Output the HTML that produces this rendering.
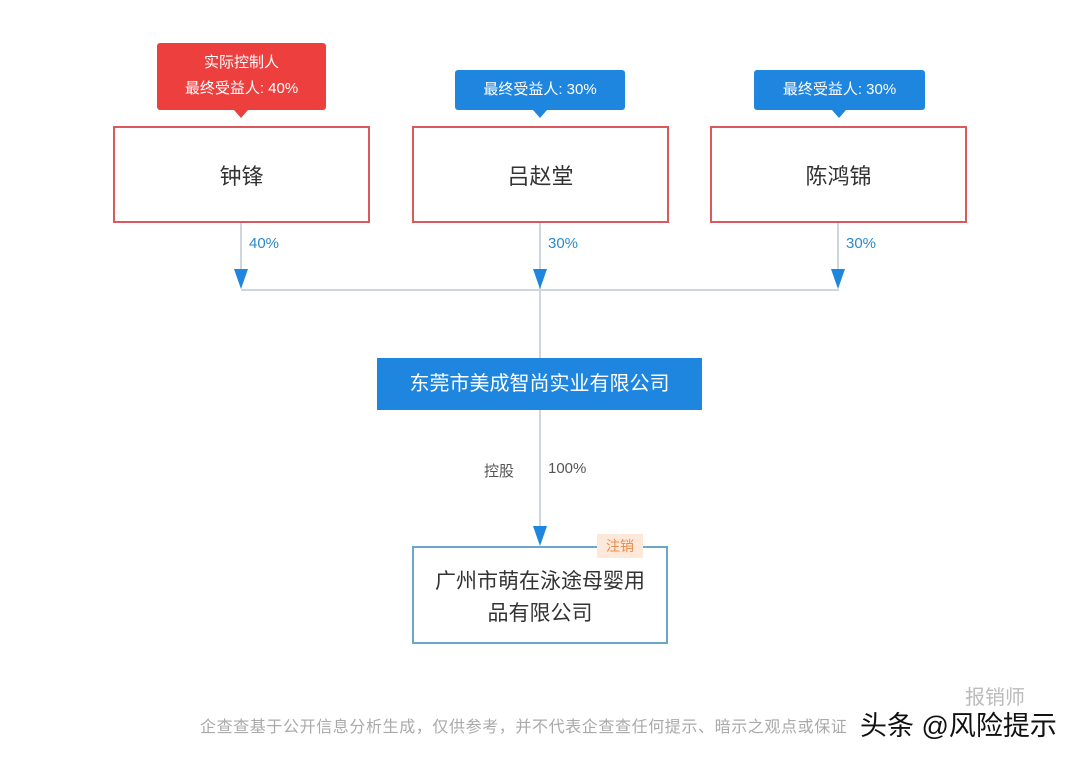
<!DOCTYPE html>
<html><head><meta charset="utf-8"><style>
body{margin:0;width:1080px;height:760px;background:#fff;position:relative;overflow:hidden;font-family:"Liberation Sans","Noto Sans CJK SC",sans-serif}
.a{position:absolute}
.p{position:absolute;border:2px solid #d9595c;box-sizing:border-box;display:flex;align-items:center;justify-content:center;font-size:22px;color:#333;background:#fff}
.tag{position:absolute;color:#fff;font-size:15px;text-align:center;border-radius:3px;box-sizing:border-box}
.ln{position:absolute;background:#cfd6dc}
.pct{position:absolute;color:#2a8ac9;font-size:15px}
.arr{position:absolute;width:0;height:0;border-left:7px solid transparent;border-right:7px solid transparent;border-top:20px solid #1f86df}
</style></head><body>
<div class="tag" style="left:157px;top:43px;width:169px;height:67px;background:#ee3f3f;line-height:26px;padding-top:7px">实际控制人<br>最终受益人: 40%</div>
<div class="a" style="left:234px;top:110px;border-left:7px solid transparent;border-right:7px solid transparent;border-top:8px solid #ee3f3f"></div>
<div class="tag" style="left:455px;top:70px;width:170px;height:40px;background:#1f86df;line-height:40px">最终受益人: 30%</div>
<div class="a" style="left:533px;top:110px;border-left:7px solid transparent;border-right:7px solid transparent;border-top:8px solid #1f86df"></div>
<div class="tag" style="left:754px;top:70px;width:171px;height:40px;background:#1f86df;line-height:40px">最终受益人: 30%</div>
<div class="a" style="left:832px;top:110px;border-left:7px solid transparent;border-right:7px solid transparent;border-top:8px solid #1f86df"></div>

<div class="p" style="left:113px;top:126px;width:257px;height:97px">钟锋</div>
<div class="p" style="left:412px;top:126px;width:257px;height:97px">吕赵堂</div>
<div class="p" style="left:710px;top:126px;width:257px;height:97px">陈鸿锦</div>

<div class="ln" style="left:240px;top:223px;width:2px;height:50px"></div>
<div class="ln" style="left:539px;top:223px;width:2px;height:136px"></div>
<div class="ln" style="left:837px;top:223px;width:2px;height:50px"></div>
<div class="ln" style="left:241px;top:289px;width:598px;height:2px"></div>
<div class="arr" style="left:234px;top:269px"></div>
<div class="arr" style="left:533px;top:269px"></div>
<div class="arr" style="left:831px;top:269px"></div>
<div class="pct" style="left:249px;top:235px">40%</div>
<div class="pct" style="left:548px;top:235px">30%</div>
<div class="pct" style="left:846px;top:235px">30%</div>

<div class="a" style="left:377px;top:358px;width:325px;height:52px;background:#1f86df;color:#fff;font-size:20px;line-height:52px;text-align:center">东莞市美成智尚实业有限公司</div>
<div class="ln" style="left:539px;top:410px;width:2px;height:120px"></div>
<div class="arr" style="left:533px;top:526px"></div>
<div class="pct" style="left:484px;top:460px;color:#555">控股</div>
<div class="pct" style="left:548px;top:460px;color:#555">100%</div>

<div class="p" style="left:412px;top:546px;width:256px;height:98px;border-color:#6aa7c8;line-height:32px;text-align:center;font-size:21px;padding-top:6px">广州市萌在泳途母婴用<br>品有限公司</div>
<div class="a" style="left:597px;top:534px;width:46px;height:24px;background:#fde8da;color:#ef8a4a;font-size:14px;line-height:24px;text-align:center">注销</div>

<div class="a" style="left:200px;top:713px;color:#aaa;font-size:16px;letter-spacing:0.6px;white-space:nowrap">企查查基于公开信息分析生成，仅供参考，并不代表企查查任何提示、暗示之观点或保证</div>
<div class="a" style="left:965px;top:681px;color:#bbb;font-size:20px">报销师</div>
<div class="a" style="left:860px;top:704px;color:#111;font-size:27px;white-space:nowrap">头条 @风险提示</div>
</body></html>
